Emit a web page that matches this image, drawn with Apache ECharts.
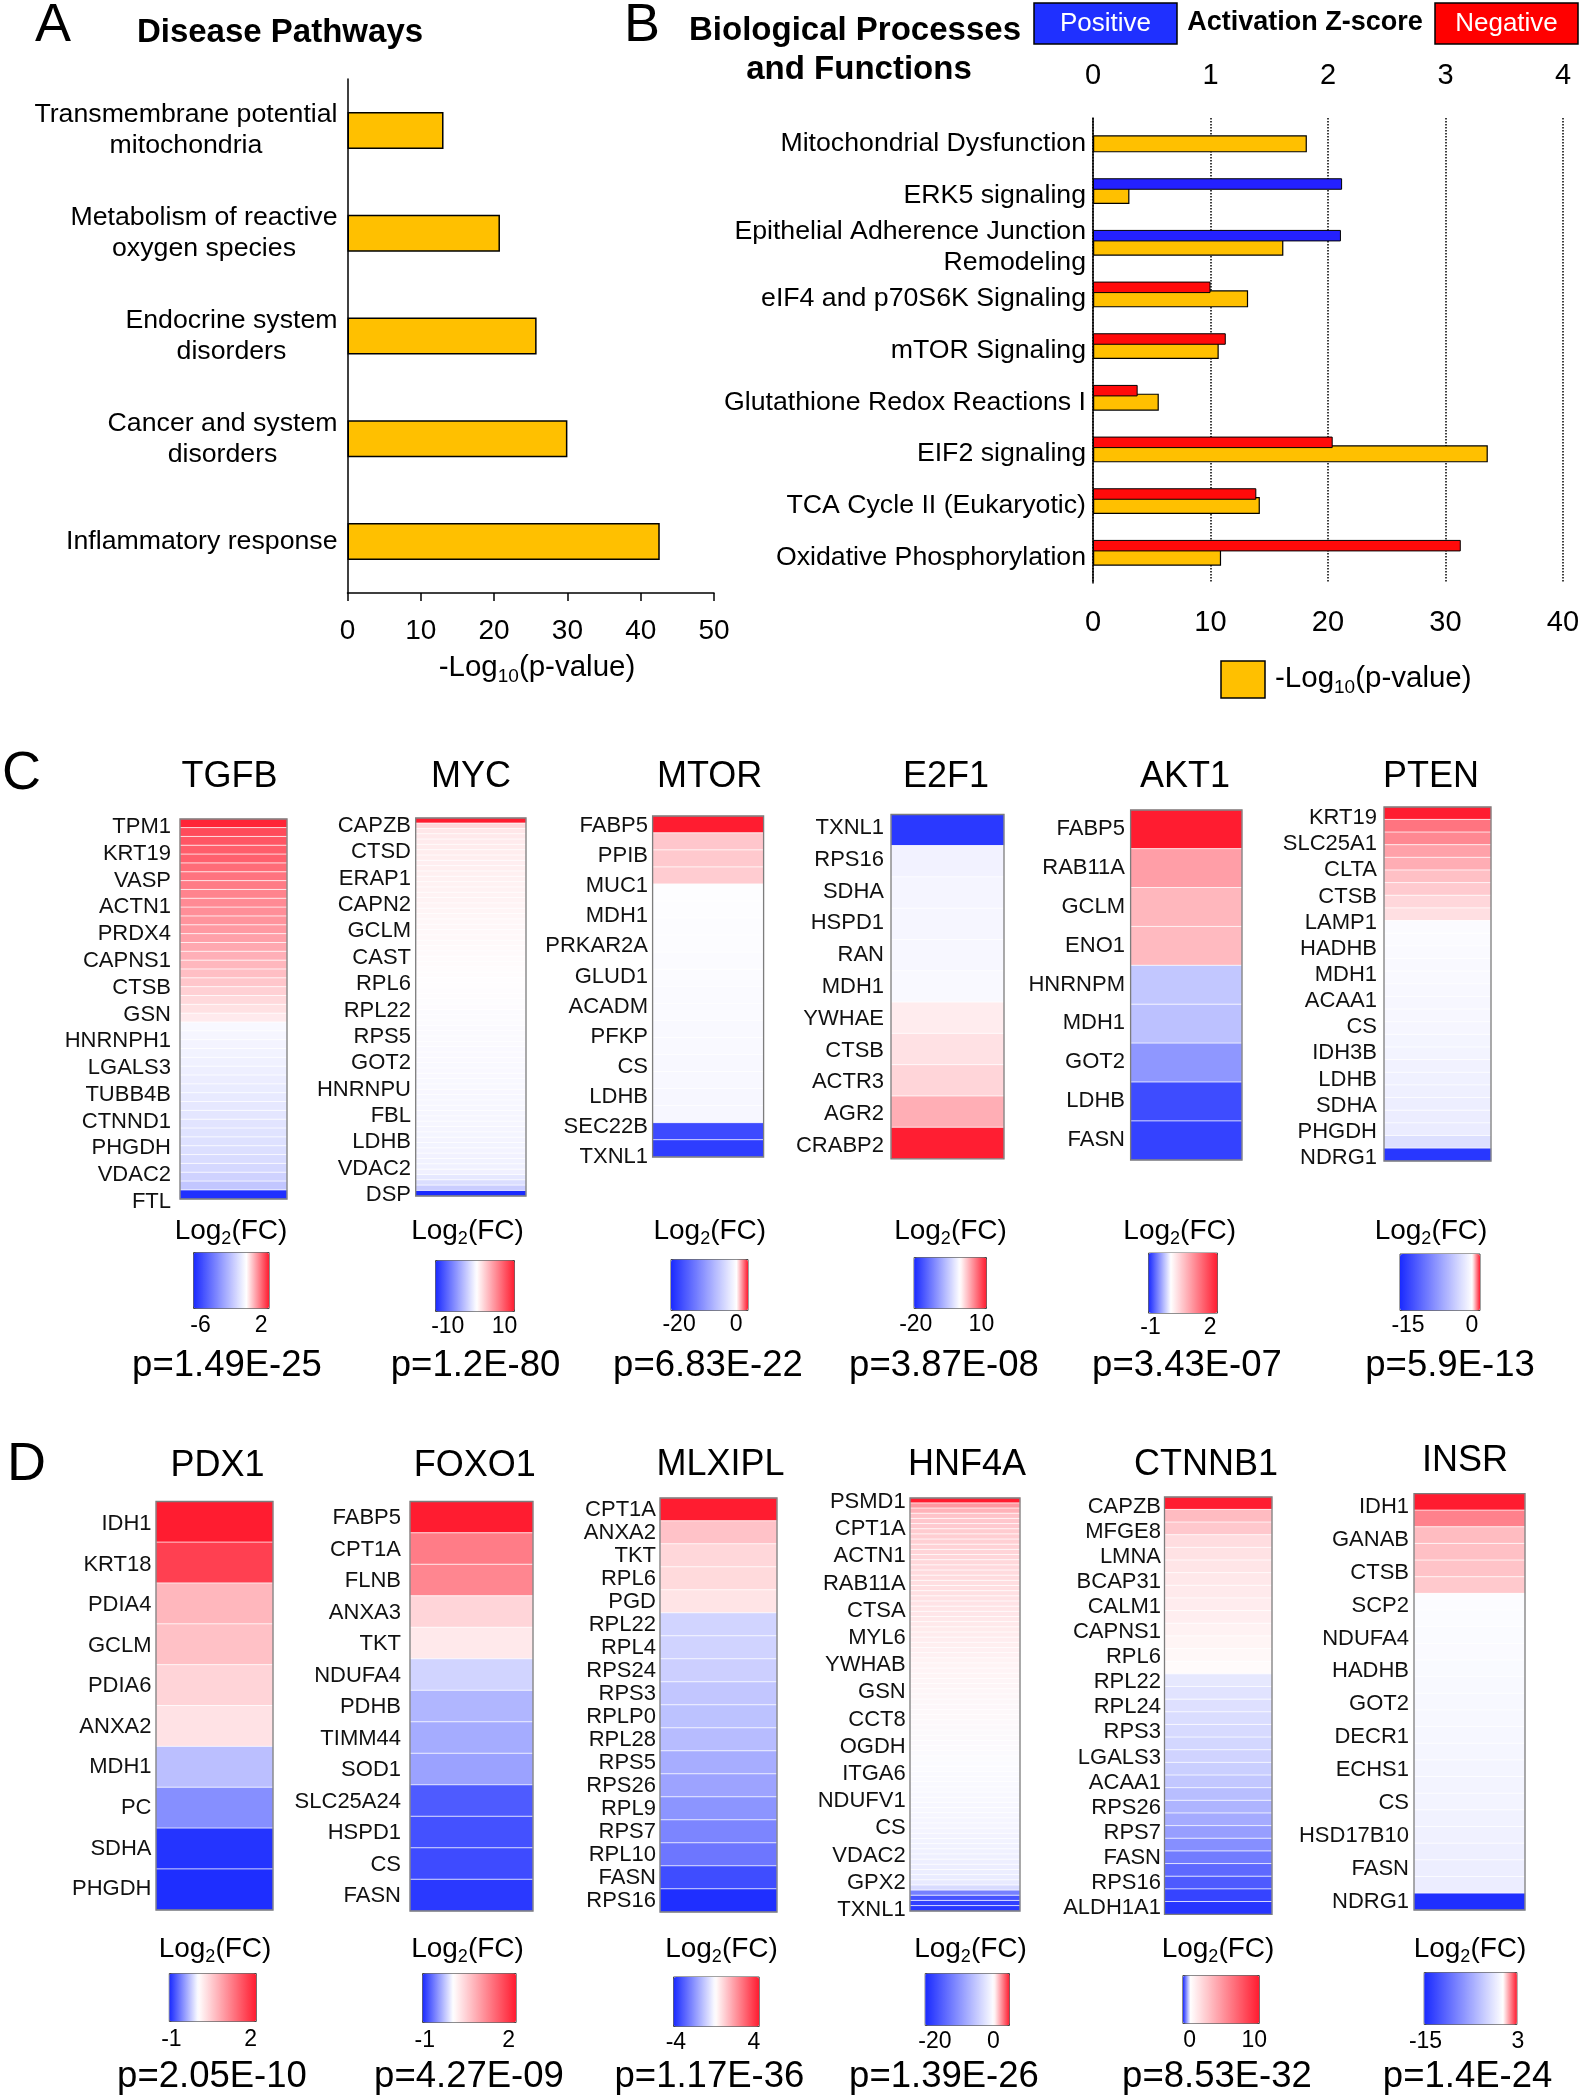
<!DOCTYPE html>
<html><head><meta charset="utf-8">
<script src="https://cdn.jsdelivr.net/npm/echarts/dist/echarts.min.js"></script>
<style>html,body{margin:0;padding:0;background:#fff}#c{width:1582px;height:2100px}</style>
</head><body><div id="c"></div><script>
// ---------------- DATA ----------------
// Panel A
const diseaseCategories = ['Transmembrane potential\nmitochondria', 'Metabolism of reactive\noxygen species', 'Endocrine system\ndisorders', 'Cancer and system\ndisorders', 'Inflammatory response'];
const diseaseLogP = [13.1, 20.8, 25.8, 30.0, 42.6];
// Panel B
const bioCategories = ['Mitochondrial Dysfunction', 'ERK5 signaling', 'Epithelial Adherence Junction\nRemodeling', 'eIF4 and p70S6K Signaling', 'mTOR Signaling', 'Glutathione Redox Reactions I', 'EIF2 signaling', 'TCA Cycle II (Eukaryotic)', 'Oxidative Phosphorylation'];
const bioZScore = [null, 2.12, 2.11, -1.0, -1.13, -0.38, -2.04, -1.39, -3.13];
const bioLogP = [18.2, 3.1, 16.2, 13.2, 10.7, 5.6, 33.6, 14.2, 10.9];

// Panel C / D heatmaps: labelled genes, row log2(FC) values, colour range, colour-bar ticks, p-value
const TGFB_genes = ['TPM1','KRT19','VASP','ACTN1','PRDX4','CAPNS1','CTSB','GSN','HNRNPH1','LGALS3','TUBB4B','CTNND1','PHGDH','VDAC2','FTL'];
const TGFB_fc = [2.9,2.4,2.25,2.15,2.1,1.95,1.85,1.75,1.65,1.55,1.5,1.42,1.35,1.25,1.15,1.05,0.95,0.85,0.75,0.62,0.5,0.4,0.27,-0.23,-0.29,-0.35,-0.41,-0.47,-0.53,-0.59,-0.64,-0.7,-0.76,-0.82,-0.88,-0.94,-0.99,-1.05,-1.17,-1.29,-1.46,-1.87,-6.8];
const TGFB_range = [-7.0, 3.0]; const TGFB_ticks = [-6, 2]; const TGFB_p = 'p=1.49E-25';

const MYC_genes = ['CAPZB','CTSD','ERAP1','CAPN2','GCLM','CAST','RPL6','RPL22','RPS5','GOT2','HNRNPU','FBL','LDHB','VDAC2','DSP'];
const MYC_fc = [13.3,2.4,1.4,1.3,1.2,1.15,1.1,1.05,1.0,0.95,0.9,0.85,0.8,0.78,0.75,0.7,0.65,0.6,0.55,0.5,0.45,0.42,0.38,0.35,0.3,0.27,0.24,0.2,0.17,0.14,0.1,0.07,0.04,0.02,-0.05,-0.08,-0.1,-0.12,-0.15,-0.18,-0.2,-0.22,-0.25,-0.28,-0.3,-0.32,-0.35,-0.38,-0.4,-0.42,-0.45,-0.48,-0.5,-0.52,-0.55,-0.58,-0.6,-0.63,-0.66,-0.7,-0.73,-0.76,-0.8,-0.85,-0.9,-0.95,-1.0,-1.6,-2.3,-3.4,-14.5];
const MYC_range = [-14.5, 13.3]; const MYC_ticks = [-10, 10]; const MYC_p = 'p=1.2E-80';

const MTOR_genes = ['FABP5','PPIB','MUC1','MDH1','PRKAR2A','GLUD1','ACADM','PFKP','CS','LDHB','SEC22B','TXNL1'];
const MTOR_fc = [4.0,1.0,0.95,0.9,-0.2,-0.25,-0.3,-0.35,-0.4,-0.45,-0.5,-0.55,-0.6,-0.65,-0.7,-0.75,-0.8,-0.85,-19.5,-21];
const MTOR_range = [-23, 4]; const MTOR_ticks = [-20, 0]; const MTOR_p = 'p=6.83E-22';

const E2F1_genes = ['TXNL1','RPS16','SDHA','HSPD1','RAN','MDH1','YWHAE','CTSB','ACTR3','AGR2','CRABP2'];
const E2F1_fc = [-19.5,-1.2,-1.0,-0.9,-0.8,-0.6,1.0,1.6,2.2,4.3,12.0];
const E2F1_range = [-21, 12.1]; const E2F1_ticks = [-20, 10]; const E2F1_p = 'p=3.87E-08';

const AKT1_genes = ['FABP5','RAB11A','GCLM','ENO1','HNRNPM','MDH1','GOT2','LDHB','FASN'];
const AKT1_fc = [2.35,1.0,0.75,0.72,-0.3,-0.33,-0.55,-0.95,-1.0];
const AKT1_range = [-1.13, 2.35]; const AKT1_ticks = [-1, 2]; const AKT1_p = 'p=3.43E-07';

const PTEN_genes = ['KRT19','SLC25A1','CLTA','CTSB','LAMP1','HADHB','MDH1','ACAA1','CS','IDH3B','LDHB','SDHA','PHGDH','NDRG1'];
const PTEN_fc = [1.8,1.1,0.95,0.75,0.65,0.5,0.42,0.3,0.22,-0.3,-0.35,-0.4,-0.45,-0.5,-0.55,-0.6,-0.65,-0.7,-0.8,-0.9,-1.0,-1.1,-1.2,-1.3,-1.4,-1.5,-2.5,-16];
const PTEN_range = [-17, 1.8]; const PTEN_ticks = [-15, 0]; const PTEN_p = 'p=5.9E-13';

const PDX1_genes = ['IDH1','KRT18','PDIA4','GCLM','PDIA6','ANXA2','MDH1','PC','SDHA','PHGDH'];
const PDX1_fc = [2.2,1.85,0.7,0.6,0.42,0.28,-0.33,-0.58,-1.05,-1.08];
const PDX1_range = [-1.1, 2.2]; const PDX1_ticks = [-1, 2]; const PDX1_p = 'p=2.05E-10';

const FOXO1_genes = ['FABP5','CPT1A','FLNB','ANXA3','TKT','NDUFA4','PDHB','TIMM44','SOD1','SLC25A24','HSPD1','CS','FASN'];
const FOXO1_fc = [2.25,1.3,1.2,0.42,0.22,-0.22,-0.38,-0.43,-0.48,-0.85,-0.9,-0.93,-1.02];
const FOXO1_range = [-1.1, 2.25]; const FOXO1_ticks = [-1, 2]; const FOXO1_p = 'p=4.27E-09';

const MLXIPL_genes = ['CPT1A','ANXA2','TKT','RPL6','PGD','RPL22','RPL4','RPS24','RPS3','RPLP0','RPL28','RPS5','RPS26','RPL9','RPS7','RPL10','FASN','RPS16'];
const MLXIPL_fc = [4.5,1.2,0.8,0.75,0.55,-0.85,-0.87,-0.95,-1.15,-1.25,-1.35,-1.65,-1.85,-2.15,-2.45,-2.75,-3.6,-4.2];
const MLXIPL_range = [-4.3, 4.5]; const MLXIPL_ticks = [-4, 4]; const MLXIPL_p = 'p=1.17E-36';

const HNF4A_genes = ['PSMD1','CPT1A','ACTN1','RAB11A','CTSA','MYL6','YWHAB','GSN','CCT8','OGDH','ITGA6','NDUFV1','CS','VDAC2','GPX2','TXNL1'];
const HNF4A_fc = [5.3,2.4,1.8,1.4,1.3,1.25,1.2,1.15,1.1,1.05,1.0,0.95,0.92,0.88,0.85,0.82,0.78,0.75,0.72,0.68,0.65,0.62,0.58,0.55,0.52,0.48,0.45,0.42,0.38,0.35,0.32,0.28,0.25,0.22,0.18,0.15,0.12,0.08,0.04,
  -0.05,-0.08,-0.1,-0.13,-0.16,-0.2,-0.23,-0.26,-0.3,-0.34,-0.38,-0.42,-0.46,-0.5,-0.55,-0.6,-0.65,-0.7,-0.75,-0.8,-0.86,-0.92,-0.98,-1.05,-1.12,-1.2,-1.28,-1.36,-1.45,-1.55,-1.65,-1.75,-1.85,-1.95,-2.1,-2.3,
  -4,-14,-19,-21,-22];
const HNF4A_range = [-23.5, 5.3]; const HNF4A_ticks = [-20, 0]; const HNF4A_p = 'p=1.39E-26';

const CTNNB1_genes = ['CAPZB','MFGE8','LMNA','BCAP31','CALM1','CAPNS1','RPL6','RPL22','RPL24','RPS3','LGALS3','ACAA1','RPS26','RPS7','FASN','RPS16','ALDH1A1'];
const CTNNB1_fc = [10.7,3.2,2.6,1.6,1.4,1.25,1.1,1.0,0.9,0.8,0.65,0.5,0.35,0.2,-0.1,-0.13,-0.15,-0.17,-0.19,-0.21,-0.23,-0.26,-0.3,-0.35,-0.4,-0.45,-0.52,-0.6,-0.7,-0.8,-0.88,-1.0,-1.08];
const CTNNB1_range = [-1.14, 10.7]; const CTNNB1_ticks = [0, 10]; const CTNNB1_p = 'p=8.53E-32';

const INSR_genes = ['IDH1','GANAB','CTSB','SCP2','NDUFA4','HADHB','GOT2','DECR1','ECHS1','CS','HSD17B10','FASN','NDRG1'];
const INSR_fc = [2.7,1.5,0.8,0.75,0.72,0.65,-0.2,-0.25,-0.3,-0.35,-0.4,-0.45,-0.5,-0.55,-0.6,-0.65,-0.7,-0.75,-0.8,-0.9,-1.0,-1.1,-1.2,-1.3,-15];
const INSR_range = [-15.35, 2.7]; const INSR_ticks = [-15, 3]; const INSR_p = 'p=1.4E-24';

// ---------------- LAYOUT / STYLE ----------------
const FONT = '"Liberation Sans", Arial, Helvetica, sans-serif';
const YELLOW = '#FFC000', BLUE = '#2421ff', RED = '#ff0a0a';
const HEATMAPS = [
  {name:'TGFB',   genes:TGFB_genes,   fc:TGFB_fc,   range:TGFB_range,   ticks:TGFB_ticks,   p:TGFB_p,   title:[229.5,777], rect:[180,819,107,380],      lab:[827,1202,171],    cb:[193,1252,75.6,56],   log:[231,1231],   tickY:1326, pos:[227,1366]},
  {name:'MYC',    genes:MYC_genes,    fc:MYC_fc,    range:MYC_range,    ticks:MYC_ticks,    p:MYC_p,    title:[471,777],   rect:[415.7,818,110.3,378],  lab:[826,1195,411],    cb:[435,1260,79,51],     log:[467.5,1231], tickY:1327, pos:[475.5,1366]},
  {name:'MTOR',   genes:MTOR_genes,   fc:MTOR_fc,   range:MTOR_range,   ticks:MTOR_ticks,   p:MTOR_p,   title:[709.6,777], rect:[652.6,816,111,341],    lab:[826,1157,648],    cb:[670.5,1259,77,51],   log:[709.8,1231], tickY:1325, pos:[708,1366]},
  {name:'E2F1',   genes:E2F1_genes,   fc:E2F1_fc,   range:E2F1_range,   ticks:E2F1_ticks,   p:E2F1_p,   title:[946,777],   rect:[891,814.5,113,344.3],  lab:[828,1146,884],    cb:[913.6,1257,72.4,51], log:[950.5,1231], tickY:1325, pos:[944,1366]},
  {name:'AKT1',   genes:AKT1_genes,   fc:AKT1_fc,   range:AKT1_range,   ticks:AKT1_ticks,   p:AKT1_p,   title:[1185,777],  rect:[1130.6,810,111.4,350], lab:[829,1140,1125],   cb:[1148,1252.6,69,60],  log:[1179.7,1231],tickY:1328, pos:[1187,1366]},
  {name:'PTEN',   genes:PTEN_genes,   fc:PTEN_fc,   range:PTEN_range,   ticks:PTEN_ticks,   p:PTEN_p,   title:[1431,777],  rect:[1384,807,107,354],     lab:[818,1158,1377],   cb:[1399.5,1253.5,80,56.5], log:[1431,1231], tickY:1326, pos:[1450,1366]},
  {name:'PDX1',   genes:PDX1_genes,   fc:PDX1_fc,   range:PDX1_range,   ticks:PDX1_ticks,   p:PDX1_p,   title:[217.5,1466],rect:[156,1501.5,117,408.5], lab:[1524,1889,151.5], cb:[168.8,1973,87,48],   log:[215,1949],   tickY:2040, pos:[212,2077]},
  {name:'FOXO1',  genes:FOXO1_genes,  fc:FOXO1_fc,  range:FOXO1_range,  ticks:FOXO1_ticks,  p:FOXO1_p,  title:[474.7,1466],rect:[410,1501.5,123,409.5], lab:[1518,1896,401],   cb:[422,1973,93.6,49],   log:[467.5,1949], tickY:2041, pos:[469,2077]},
  {name:'MLXIPL', genes:MLXIPL_genes, fc:MLXIPL_fc, range:MLXIPL_range, ticks:MLXIPL_ticks, p:MLXIPL_p, title:[720.6,1465],rect:[660,1498,117,414],     lab:[1510,1901,656],   cb:[673,1976.5,85.7,49.5], log:[721.5,1949], tickY:2043, pos:[709.4,2077]},
  {name:'HNF4A',  genes:HNF4A_genes,  fc:HNF4A_fc,  range:HNF4A_range,  ticks:HNF4A_ticks,  p:HNF4A_p,  title:[967,1465],  rect:[910,1498,110,413],     lab:[1502,1910,905.7], cb:[924.7,1973,84.3,52], log:[970.5,1949], tickY:2042, pos:[944,2077]},
  {name:'CTNNB1', genes:CTNNB1_genes, fc:CTNNB1_fc, range:CTNNB1_range, ticks:CTNNB1_ticks, p:CTNNB1_p, title:[1206,1465], rect:[1164.5,1497,107.5,417.4], lab:[1506.7,1908,1161], cb:[1182.4,1975,76.4,48], log:[1218,1949], tickY:2041, pos:[1217,2077]},
  {name:'INSR',   genes:INSR_genes,   fc:INSR_fc,   range:INSR_range,   ticks:INSR_ticks,   p:INSR_p,   title:[1465,1461], rect:[1414,1493.7,111,416.3], lab:[1506.7,1902,1409], cb:[1423.7,1972,92.7,52], log:[1470,1949], tickY:2042, pos:[1467.6,2077]}
];

function ramp(lo, hi) {
  const f = -lo / (hi - lo);
  const B = [26, 42, 255], W = [255, 255, 255], R = [255, 28, 48];
  const out = [];
  for (let i = 0; i <= 40; i++) {
    const t = i / 40; let c;
    if (t <= f) { const u = f > 0 ? t / f : 1; c = B.map((b, j) => Math.round(b + (W[j] - b) * u)); }
    else { const u = (t - f) / (1 - f); c = W.map((w, j) => Math.round(w + (R[j] - w) * u)); }
    out.push('rgb(' + c.join(',') + ')');
  }
  return out;
}
function txt(t, x, y, size, extra) {
  return {type:'text', silent:true, z:50, style:Object.assign({text:t, x:x, y:y, fontSize:size, fontFamily:FONT, fill:'#000', align:'center', verticalAlign:'middle'}, extra || {})};
}
function subTxt(pre, sub, post, x, y, size, subSize, drop, align) {
  return {type:'text', silent:true, z:50, style:{text:'{m|' + pre + '}{s|' + sub + '}{m|' + post + '}', x:x, y:y, align:align || 'center', verticalAlign:'middle', fill:'#000',
    rich:{m:{fontSize:size, fontFamily:FONT, fill:'#000'}, s:{fontSize:subSize, fontFamily:FONT, fill:'#000', padding:[drop,0,0,0]}}}};
}

const grids = [], xAxes = [], yAxes = [], series = [], visualMaps = [], graphics = [];
const axisBlack = {show:true, onZero:false, lineStyle:{color:'#000', width:1.5}};

// ---- Panel A ----
grids.push({left:347.5, top:79, width:366.5, height:514, containLabel:false, outerBoundsMode:'none'});
xAxes.push({type:'value', gridIndex:0, min:0, max:50, interval:10, axisLine:axisBlack,
  axisTick:{show:true, length:8, lineStyle:{color:'#000', width:1.5}}, splitLine:{show:false},
  axisLabel:{fontSize:28, fontFamily:FONT, color:'#000', margin:24}});
yAxes.push({type:'category', gridIndex:0, data:diseaseCategories, inverse:true, axisLine:axisBlack, axisTick:{show:false},
  axisLabel:{interval:0, margin:10, formatter:v => v.split('\n').map(s => '{c|' + s + '}').join('\n'),
    rich:{c:{align:'center', fontSize:26.7, lineHeight:31, fontFamily:FONT, color:'#000'}}}});
series.push({type:'bar', xAxisIndex:0, yAxisIndex:0, data:diseaseLogP, barWidth:37, silent:true,
  itemStyle:{color:YELLOW, borderColor:'#000', borderWidth:1.5}});

// ---- Panel B (p-value bars centred in band; z-score bars on a companion grid shifted upward) ----
const bTop = 118, bH = 465, zShift = 11.5;
grids.push({left:1093, top:bTop, width:470, height:bH, containLabel:false, outerBoundsMode:'none'});
grids.push({left:1093, top:bTop - zShift, width:470, height:bH, containLabel:false, outerBoundsMode:'none'});
xAxes.push({type:'value', gridIndex:1, position:'bottom', min:0, max:40, interval:10, axisLine:{show:false}, axisTick:{show:false},
  splitLine:{show:true, lineStyle:{color:'#000', type:'dotted', width:1.5}},
  axisLabel:{fontSize:29, fontFamily:FONT, color:'#000', margin:25}});
xAxes.push({type:'value', gridIndex:2, position:'top', min:0, max:4, interval:1, axisLine:{show:false}, axisTick:{show:false}, splitLine:{show:false},
  axisLabel:{fontSize:29, fontFamily:FONT, color:'#000', margin:16.5}});
yAxes.push({type:'category', gridIndex:1, data:bioCategories, inverse:true, axisLine:axisBlack, axisTick:{show:false},
  axisLabel:{interval:0, margin:7, fontSize:26.7, lineHeight:31, fontFamily:FONT, color:'#000', padding:[0,0,8,0]}});
yAxes.push({type:'category', gridIndex:2, data:bioCategories, inverse:true, show:false});
series.push({type:'bar', xAxisIndex:1, yAxisIndex:1, barWidth:17, silent:true, data:bioLogP,
  itemStyle:{color:YELLOW, borderColor:'#000', borderWidth:1.2}});
series.push({type:'bar', xAxisIndex:2, yAxisIndex:2, barWidth:11.5, silent:true, z:3,
  data:bioZScore.map(z => z == null ? '-' : {value:Math.abs(z), itemStyle:{color:z > 0 ? BLUE : RED}}),
  itemStyle:{borderColor:'#000', borderWidth:1}});

// ---- Heatmaps ----
HEATMAPS.forEach(h => {
  const [rx, ry, rw, rh] = h.rect;
  const gi = grids.length;
  grids.push({left:rx, top:ry, width:rw, height:rh, show:true, z:5, backgroundColor:'rgba(0,0,0,0)', borderColor:'#7d7d7d', borderWidth:1.3, containLabel:false, outerBoundsMode:'none'});
  const xi = xAxes.length; xAxes.push({type:'category', gridIndex:gi, data:[''], show:false});
  const yi = yAxes.length; yAxes.push({type:'category', gridIndex:gi, data:h.fc.map((_, i) => String(i)), inverse:true, show:false});
  const si = series.length;
  series.push({type:'heatmap', xAxisIndex:xi, yAxisIndex:yi, silent:true, emphasis:{disabled:true},
    data:h.fc.map((v, i) => [0, i, v]), itemStyle:{borderColor:'rgba(255,255,255,0.75)', borderWidth:1}});
  // label axis
  const gl = grids.length;
  grids.push({left:rx, top:h.lab[0], width:rw, height:h.lab[1] - h.lab[0], containLabel:false, outerBoundsMode:'none'});
  xAxes.push({type:'value', gridIndex:gl, show:false});
  yAxes.push({type:'category', gridIndex:gl, data:h.genes, inverse:true, boundaryGap:false,
    axisLine:{show:false}, axisTick:{show:false}, splitLine:{show:false},
    axisLabel:{interval:0, margin:rx - h.lab[2], fontSize:22, fontFamily:FONT, color:'#111'}});
  // colour bar
  const [cx, cy, cw, ch] = h.cb;
  visualMaps.push({type:'continuous', seriesIndex:si, dimension:2, min:h.range[0], max:h.range[1], orient:'horizontal',
    left:cx, top:cy, itemWidth:ch, itemHeight:cw, calculable:false, realtime:false, hoverLink:false, padding:0,
    borderColor:'#444', borderWidth:1, inRange:{color:ramp(h.range[0], h.range[1])}});
  graphics.push(txt(h.name, h.title[0], h.title[1], 36));
  graphics.push(subTxt('Log', '2', '(FC)', h.log[0], h.log[1], 28, 18, 17));
  h.ticks.forEach(t => {
    const x = cx + (t - h.range[0]) / (h.range[1] - h.range[0]) * cw;
    graphics.push(txt(String(t), x, h.tickY, 23));
  });
  graphics.push(txt(h.p, h.pos[0], h.pos[1], 36.5));
});

// ---- Static texts / legends ----
graphics.push(txt('A', 35, 26, 54, {align:'left'}));
graphics.push(txt('B', 624, 26, 54, {align:'left'}));
graphics.push(txt('C', 2, 774, 54, {align:'left'}));
graphics.push(txt('D', 7, 1465, 54, {align:'left'}));
graphics.push(txt('Disease Pathways', 280, 33, 33, {fontWeight:'bold'}));
graphics.push(txt('Biological Processes', 855, 31, 33, {fontWeight:'bold'}));
graphics.push(txt('and Functions', 859, 70, 33, {fontWeight:'bold'}));
graphics.push(subTxt('-Log', '10', '(p-value)', 537, 668, 29.5, 19, 18));
graphics.push({type:'rect', silent:true, z:40, shape:{x:1034, y:3, width:143, height:41}, style:{fill:'#1f30ff', stroke:'#000', lineWidth:1.5}});
graphics.push(txt('Positive', 1105.5, 24, 26, {fill:'#fff'}));
graphics.push(txt('Activation Z-score', 1305, 23, 27, {fontWeight:'bold'}));
graphics.push({type:'rect', silent:true, z:40, shape:{x:1435, y:3, width:143, height:41}, style:{fill:'#ff0000', stroke:'#000', lineWidth:1.5}});
graphics.push(txt('Negative', 1506.5, 24, 26, {fill:'#fff'}));
graphics.push({type:'rect', silent:true, z:40, shape:{x:1221, y:661, width:44, height:37}, style:{fill:YELLOW, stroke:'#000', lineWidth:1.5}});
graphics.push(subTxt('-Log', '10', '(p-value)', 1275, 679, 29.5, 19, 18, 'left'));

const chart = echarts.init(document.getElementById('c'), null, {renderer:'canvas', width:1582, height:2100});
chart.setOption({
  animation:false, backgroundColor:'#fff',
  textStyle:{fontFamily:FONT},
  grid:grids, xAxis:xAxes, yAxis:yAxes, series:series, visualMap:visualMaps, graphic:graphics
});
</script></body></html>
